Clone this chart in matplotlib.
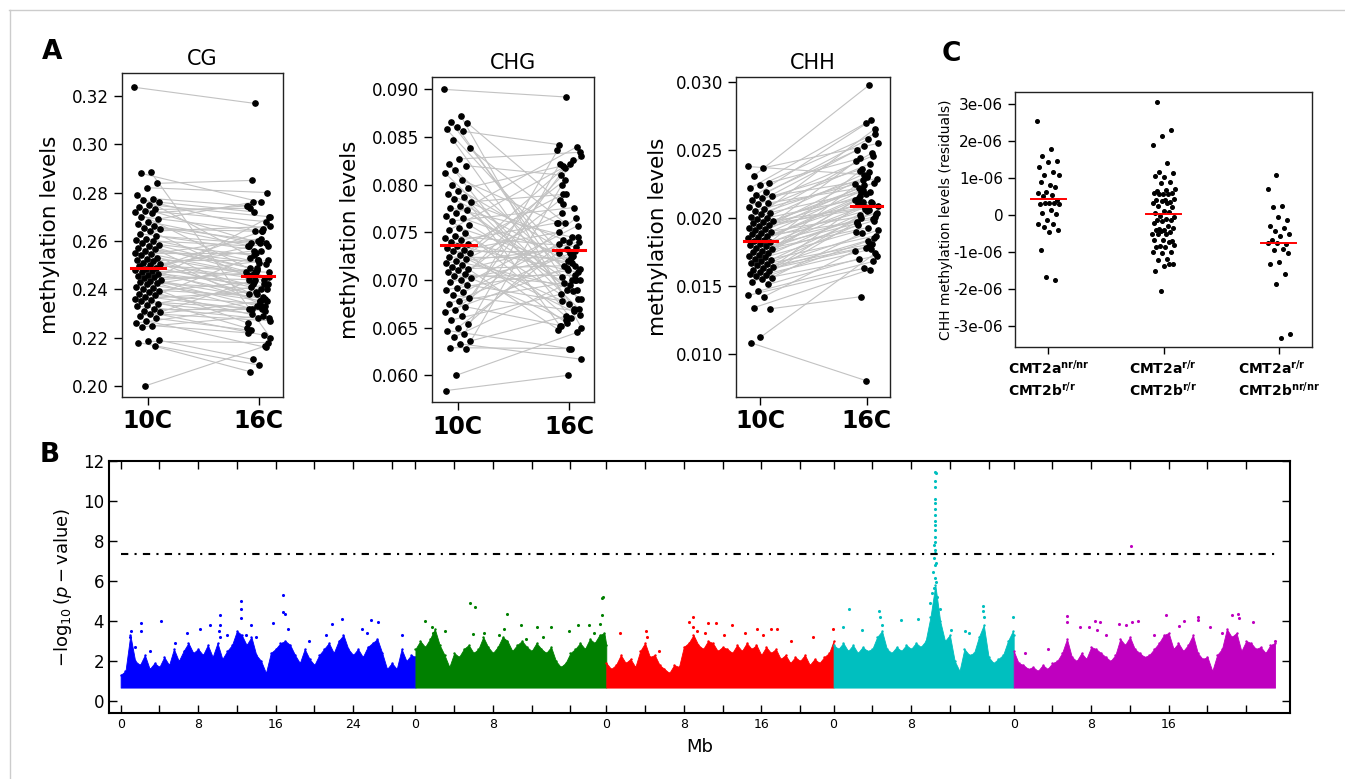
import numpy as np
import matplotlib.pyplot as plt
from matplotlib.ticker import FormatStrFormatter
from matplotlib.lines import Line2D

plt.rcParams['font.family'] = ['DejaVu Sans']
plt.rcParams['mathtext.fontset'] = 'dejavusans'

# ---------------- panel A: paired methylation levels (10C -> 16C) ----------------
cg_10c = [0.3235, 0.2885, 0.2880, 0.2838, 0.2820, 0.2790, 0.2775, 0.2770, 0.2760, 0.2750,
          0.2740, 0.2730, 0.2725, 0.2720, 0.2715, 0.2700, 0.2690, 0.2680, 0.2670, 0.2660,
          0.2655, 0.2650, 0.2640, 0.2630, 0.2620, 0.2610, 0.2605, 0.2600, 0.2590, 0.2585,
          0.2580, 0.2570, 0.2565, 0.2560, 0.2550, 0.2545, 0.2540, 0.2530, 0.2525, 0.2520,
          0.2515, 0.2510, 0.2505, 0.2500, 0.2495, 0.2490, 0.2485, 0.2480, 0.2475, 0.2470,
          0.2465, 0.2460, 0.2455, 0.2450, 0.2445, 0.2440, 0.2435, 0.2430, 0.2425, 0.2420,
          0.2410, 0.2405, 0.2400, 0.2395, 0.2390, 0.2380, 0.2375, 0.2370, 0.2360, 0.2355,
          0.2350, 0.2340, 0.2335, 0.2330, 0.2320, 0.2310, 0.2305, 0.2300, 0.2290, 0.2280,
          0.2270, 0.2260, 0.2250, 0.2245, 0.2190, 0.2185, 0.2180, 0.2165, 0.2000]
cg_16c = [0.3168, 0.2200, 0.2760, 0.2850, 0.2800, 0.2520, 0.2745, 0.2650, 0.2720, 0.2700,
          0.2590, 0.2735, 0.2680, 0.2470, 0.2745, 0.2640, 0.2760, 0.2580, 0.2600, 0.2580,
          0.2420, 0.2640, 0.2660, 0.2560, 0.2590, 0.2505, 0.2480, 0.2580, 0.2360, 0.2540,
          0.2450, 0.2510, 0.2490, 0.2330, 0.2550, 0.2470, 0.2610, 0.2460, 0.2400, 0.2520,
          0.2380, 0.2440, 0.2560, 0.2470, 0.2350, 0.2410, 0.2590, 0.2380, 0.2460, 0.2640,
          0.2420, 0.2520, 0.2330, 0.2440, 0.2360, 0.2470, 0.2700, 0.2400, 0.2320, 0.2350,
          0.2490, 0.2260, 0.2370, 0.2430, 0.2280, 0.2340, 0.2530, 0.2310, 0.2390, 0.2240,
          0.2320, 0.2300, 0.2420, 0.2280, 0.2320, 0.2210, 0.2440, 0.2270, 0.2350, 0.2230,
          0.2160, 0.2330, 0.2220, 0.2290, 0.2110, 0.2180, 0.2087, 0.2060, 0.2165]
cg_median = [0.2490, 0.2457]

chg_10c = [0.0900, 0.0872, 0.0866, 0.0865, 0.0861, 0.0858, 0.0856, 0.0847, 0.0838, 0.0827,
           0.0822, 0.0820, 0.0815, 0.0812, 0.0805, 0.0800, 0.0797, 0.0793, 0.0790, 0.0787,
           0.0785, 0.0782, 0.0778, 0.0776, 0.0773, 0.0770, 0.0767, 0.0765, 0.0762, 0.0758,
           0.0755, 0.0752, 0.0749, 0.0746, 0.0744, 0.0742, 0.0740, 0.0738, 0.0736, 0.0734,
           0.0732, 0.0730, 0.0728, 0.0726, 0.0724, 0.0722, 0.0720, 0.0718, 0.0716, 0.0714,
           0.0712, 0.0710, 0.0708, 0.0706, 0.0704, 0.0702, 0.0700, 0.0698, 0.0695, 0.0692,
           0.0690, 0.0687, 0.0684, 0.0681, 0.0678, 0.0675, 0.0672, 0.0669, 0.0666, 0.0662,
           0.0658, 0.0654, 0.0650, 0.0647, 0.0643, 0.0640, 0.0636, 0.0633, 0.0629, 0.0628,
           0.0600, 0.0584]
chg_16c = [0.0892, 0.0650, 0.0700, 0.0780, 0.0680, 0.0720, 0.0842, 0.0670, 0.0760, 0.0834,
           0.0660, 0.0810, 0.0700, 0.0690, 0.0760, 0.0725, 0.0820, 0.0670, 0.0740, 0.0652,
           0.0715, 0.0790, 0.0680, 0.0745, 0.0703, 0.0840, 0.0660, 0.0728, 0.0776, 0.0697,
           0.0712, 0.0822, 0.0685, 0.0735, 0.0655, 0.0760, 0.0718, 0.0790, 0.0708, 0.0675,
           0.0750, 0.0730, 0.0805, 0.0663, 0.0723, 0.0770, 0.0690, 0.0733, 0.0648, 0.0826,
           0.0715, 0.0740, 0.0695, 0.0784, 0.0705, 0.0658, 0.0830, 0.0725, 0.0678, 0.0757,
           0.0710, 0.0738, 0.0668, 0.0817, 0.0700, 0.0728, 0.0652, 0.0765, 0.0713, 0.0836,
           0.0688, 0.0742, 0.0745, 0.0628, 0.0822, 0.0700, 0.0662, 0.0617, 0.0628, 0.0800,
           0.0645, 0.0600]
chg_median = [0.0737, 0.0731]

chh_10c = [0.0238, 0.0237, 0.0231, 0.0226, 0.0224, 0.0222, 0.0219, 0.0217, 0.0216, 0.0215,
           0.0213, 0.0211, 0.0210, 0.0208, 0.0207, 0.0205, 0.0204, 0.0203, 0.0201, 0.0200,
           0.0199, 0.0198, 0.0197, 0.0196, 0.0195, 0.0194, 0.0193, 0.0192, 0.0191, 0.0190,
           0.0189, 0.0188, 0.0187, 0.0186, 0.0185, 0.0184, 0.0183, 0.0182, 0.0181, 0.0180,
           0.0179, 0.0178, 0.0177, 0.0176, 0.0175, 0.0174, 0.0173, 0.0172, 0.0171, 0.0170,
           0.0169, 0.0168, 0.0167, 0.0166, 0.0165, 0.0164, 0.0163, 0.0162, 0.0161, 0.0160,
           0.0159, 0.0158, 0.0157, 0.0156, 0.0155, 0.0153, 0.0151, 0.0146, 0.0143, 0.0142,
           0.0134, 0.0133, 0.0112, 0.0108]
chh_16c = [0.0232, 0.0255, 0.0298, 0.0244, 0.0262, 0.0270, 0.0250, 0.0272, 0.0236, 0.0229,
           0.0258, 0.0222, 0.0246, 0.0253, 0.0225, 0.0240, 0.0219, 0.0266, 0.0230, 0.0214,
           0.0248, 0.0221, 0.0209, 0.0234, 0.0216, 0.0226, 0.0207, 0.0242, 0.0212, 0.0220,
           0.0203, 0.0231, 0.0210, 0.0199, 0.0224, 0.0213, 0.0206, 0.0235, 0.0201, 0.0218,
           0.0196, 0.0211, 0.0228, 0.0204, 0.0193, 0.0215, 0.0198, 0.0208, 0.0190, 0.0219,
           0.0200, 0.0187, 0.0205, 0.0195, 0.0181, 0.0212, 0.0191, 0.0179, 0.0202, 0.0185,
           0.0178, 0.0197, 0.0177, 0.0189, 0.0172, 0.0183, 0.0170, 0.0168, 0.0163, 0.0176,
           0.0162, 0.0142, 0.0174, 0.0080]
chh_median = [0.0183, 0.0209]

# ---------------- panel C: CHH residuals (units of 1e-6) per genotype ----------------
c_labels = [r'$\mathbf{CMT2a}^{\mathbf{nr/nr}}$' + '\n' + r'$\mathbf{CMT2b}^{\mathbf{r/r}}$',
            r'$\mathbf{CMT2a}^{\mathbf{r/r}}$' + '\n' + r'$\mathbf{CMT2b}^{\mathbf{r/r}}$',
            r'$\mathbf{CMT2a}^{\mathbf{r/r}}$' + '\n' + r'$\mathbf{CMT2b}^{\mathbf{nr/nr}}$']
c_g1 = [2.55, 1.79, 1.60, 1.47, 1.43, 1.31, 1.17, 1.10, 1.10, 0.83, 0.89, 0.77, 0.63, 0.60,
        0.54, 0.51, 0.41, 0.32, 0.30, 0.32, 0.34, 0.30, 0.14, 0.07, 0.03, -0.14, -0.23, -0.25,
        -0.32, -0.41, -0.46, -0.93, -1.74, -1.66]
c_g2 = [3.07, 2.30, 2.15, 1.90, 1.41, 1.17, 1.13, 1.03, 1.07, 0.90, 0.88, 0.72, 0.67, 0.65,
        0.59, 0.58, 0.59, 0.58, 0.57, 0.45, 0.42, 0.40, 0.36, 0.38, 0.32, 0.32, 0.25, 0.21,
        0.12, 0.06, 0.09, -0.01, -0.05, -0.09, -0.12, -0.12, -0.15, -0.21, -0.28, -0.36,
        -0.35, -0.41, -0.41, -0.46, -0.43, -0.50, -0.50, -0.51, -0.69, -0.66, -0.66, -0.73,
        -0.84, -0.81, -0.86, -0.86, -1.00, -1.02, -0.98, -1.19, -1.20, -1.33, -1.37, -1.51,
        -1.31, -2.04]
c_g3 = [1.10, 0.71, 0.25, 0.23, -0.14, -0.06, -0.28, -0.35, -0.42, -0.52, -0.56, -0.66,
        -0.77, -0.75, -0.75, -0.90, -0.95, -1.02, -1.25, -1.32, -1.59, -1.86, -3.22, -3.31]
c_means = [0.43, 0.03, -0.76]
c_yticklabels = ['-3e-06', '-2e-06', '-1e-06', '0', '1e-06', '2e-06', '3e-06']

# ---------------- panel B: Manhattan plot ----------------
chrom_len = [30.43, 19.70, 23.46, 18.59, 26.98]
chrom_colors = ['b', 'g', 'r', 'c', 'm']
chrom_labeled_ticks = [[0, 8, 16, 24], [0, 8], [0, 8, 16], [0, 8], [0, 8, 16]]
threshold = 7.37
baseline = 0.67

# upper edge of the dense cloud, read every 0.5 Mb along each chromosome
chr1_env = [1.3, 1.5, 3.3, 2.0, 1.8, 2.3, 1.6, 1.9, 1.7, 2.2, 1.8, 2.6, 2.0, 2.5, 2.9, 2.4,
            2.6, 2.3, 2.8, 2.2, 2.9, 2.1, 2.5, 2.8, 3.5, 3.3, 2.8, 3.2, 2.3, 2.0, 1.4, 2.4,
            2.6, 2.9, 3.0, 2.8, 2.3, 1.9, 2.6, 2.1, 1.8, 2.3, 2.6, 2.9, 2.4, 3.0, 3.3, 2.6,
            2.3, 2.6, 2.2, 2.7, 2.9, 3.1, 2.4, 1.6, 1.9, 1.6, 2.6, 2.0, 2.3, 2.2]
chr2_env = [2.6, 3.0, 2.7, 3.1, 3.6, 2.8, 2.3, 1.7, 2.4, 2.2, 2.6, 2.8, 2.4, 2.6, 3.2, 2.7,
            2.4, 2.7, 3.2, 3.0, 2.5, 2.8, 3.0, 2.7, 2.5, 2.9, 2.6, 2.4, 2.7, 2.0, 1.7, 1.9,
            2.4, 2.6, 2.9, 2.6, 3.1, 2.9, 3.3, 3.4, 2.8]
chr3_env = [1.9, 1.6, 1.8, 2.3, 1.9, 2.1, 1.7, 2.5, 2.9, 2.2, 2.3, 1.8, 1.6, 1.4, 1.8, 1.7,
            2.7, 2.9, 3.3, 2.8, 2.6, 3.0, 2.9, 2.5, 2.7, 2.6, 2.4, 2.8, 2.5, 2.9, 2.6, 2.8,
            2.3, 2.7, 2.4, 2.6, 2.1, 2.3, 1.9, 2.2, 2.0, 2.3, 1.8, 2.1, 1.9, 2.2, 2.4, 3.0]
chr4_env = [2.8, 2.6, 2.9, 2.5, 2.8, 2.4, 2.7, 2.5, 2.6, 3.2, 3.5, 2.6, 2.4, 2.7, 2.5, 2.8,
            2.6, 2.9, 2.7, 3.0, 4.2, 5.8, 4.0, 3.0, 3.3, 2.0, 1.5, 2.6, 2.3, 2.4, 3.2, 3.8,
            2.2, 1.9, 2.1, 2.3, 3.0, 3.5, 3.3]
chr5_env = [2.5, 1.9, 1.8, 1.6, 1.7, 1.5, 1.8, 1.6, 1.9, 2.0, 2.4, 3.1, 2.2, 2.0, 2.4, 2.1,
            2.7, 2.6, 2.4, 2.2, 2.0, 2.3, 3.1, 2.8, 3.2, 2.6, 2.4, 2.2, 2.3, 2.6, 2.9, 3.3,
            3.4, 2.6, 2.9, 2.5, 2.8, 3.3, 2.4, 2.1, 2.2, 1.5, 2.3, 2.6, 3.6, 3.2, 3.4, 2.5,
            3.0, 2.9, 2.6, 2.7, 2.4, 2.8, 2.9]

# isolated SNPs above the cloud: (Mb within chromosome, -log10 p)
chr1_hits = [(2.1, 3.9), (2.1, 3.5), (4.15, 4.0), (10.25, 4.3), (10.25, 3.8), (12.4, 5.0),
             (12.4, 4.6), (12.4, 4.15), (13.5, 3.8), (16.8, 5.3), (16.8, 4.45), (17.0, 4.35),
             (15.75, 3.9), (17.3, 3.6), (22.8, 4.1), (21.8, 3.85), (25.8, 4.05), (26.6, 3.95),
             (29.0, 3.3), (6.8, 3.4), (9.2, 3.8), (8.2, 3.6), (11.0, 3.3), (14.0, 3.2),
             (21.2, 3.3), (24.9, 3.6), (25.4, 3.4), (19.4, 3.0), (5.6, 2.9), (1.5, 2.7),
             (3.0, 2.5), (12.9, 3.3), (1.1, 3.5), (1.0, 3.2), (10.2, 3.5), (10.3, 3.2)]
chr2_hits = [(0.95, 4.0), (3.1, 3.5), (5.6, 4.9), (6.15, 4.7), (5.9, 3.35), (9.4, 4.33),
             (9.1, 3.6), (10.9, 3.8), (12.5, 3.7), (14.0, 3.7), (15.9, 3.5), (16.8, 3.8),
             (17.9, 3.8), (18.4, 3.4), (19.0, 3.85), (19.25, 4.3), (19.3, 5.13), (19.35, 5.2),
             (7.1, 3.4), (11.4, 3.1), (1.75, 3.7), (1.8, 3.4), (8.6, 3.3), (13.2, 3.2)]
chr3_hits = [(1.4, 3.4), (4.05, 3.5), (8.9, 4.2), (8.5, 3.95), (10.5, 3.9), (11.3, 3.9),
             (13.0, 3.8), (15.6, 3.6), (17.0, 3.6), (17.6, 3.6), (21.3, 3.2), (23.4, 3.6),
             (19.1, 3.0), (9.4, 3.5), (10.2, 3.4), (5.4, 2.5), (12.2, 3.3), (14.3, 3.4),
             (16.2, 3.3), (4.2, 3.2), (9.0, 3.7)]
chr4_hits = [(1.6, 4.6), (1.0, 3.7), (4.7, 4.5), (4.8, 4.2), (4.95, 3.8), (2.9, 3.55),
             (7.0, 4.05), (8.75, 4.1), (10.45, 11.47), (10.6, 11.4), (10.45, 11.0),
             (10.45, 10.7), (10.45, 10.1), (10.45, 9.9), (10.45, 9.6), (10.45, 9.3),
             (10.45, 9.0), (10.45, 8.8), (10.45, 8.55), (10.45, 8.2), (10.45, 7.97),
             (10.35, 7.8), (10.45, 7.55), (10.5, 7.38), (10.4, 7.13), (10.55, 6.9),
             (10.45, 6.8), (10.3, 6.47), (10.5, 6.13), (10.6, 5.97), (10.4, 5.63),
             (10.2, 5.4), (10.7, 5.2), (10.0, 4.9), (11.0, 4.6), (12.1, 3.55), (15.45, 4.77),
             (15.4, 4.5), (15.5, 4.2), (18.5, 4.2), (13.6, 3.5), (14.0, 3.4)]
chr5_hits = [(5.5, 4.25), (5.5, 3.97), (6.8, 3.7), (7.8, 3.7), (8.35, 4.0), (8.9, 3.97),
             (8.6, 3.55), (10.9, 3.83), (11.6, 3.8), (12.2, 3.95), (12.8, 4.0), (15.75, 4.3),
             (17.1, 3.75), (17.6, 4.0), (19.0, 4.22), (19.05, 4.05), (20.3, 3.68), (22.5, 4.3),
             (23.2, 4.35), (23.3, 4.13), (24.7, 3.93), (26.95, 3.0), (12.07, 7.75), (3.5, 2.6),
             (1.2, 2.4), (9.5, 3.3), (14.5, 3.3), (21.5, 3.4)]

chrom_env = [chr1_env, chr2_env, chr3_env, chr4_env, chr5_env]
chrom_hits = [chr1_hits, chr2_hits, chr3_hits, chr4_hits, chr5_hits]

W, H = 1345, 779
fig = plt.figure(figsize=(W / 100, H / 100), dpi=100)


def frac(left, top, right, bottom):
    # pixel box -> figure fraction rect
    return [left / W, 1 - bottom / H, (right - left) / W, (bottom - top) / H]


def spread(n, width, shift=0.0):
    # deterministic strip-plot jitter
    k = np.arange(n)
    return (((k * 0.618034 + shift) % 1.0) - 0.5) * 2 * width


def paired_panel(rect, title, v10, v16, med, yticks, fmt, ylim, labelx):
    ax = fig.add_axes(rect)
    v10 = np.array(v10)
    v16 = np.array(v16)
    x0 = 0.0 + spread(len(v10), 0.12)
    x1 = 1.0 + spread(len(v16), 0.11, 0.37)
    ax.plot(np.vstack([x0, x1]), np.vstack([v10, v16]), color='#c2c2c2', lw=0.8, zorder=1)
    ax.plot(x0, v10, 'o', color='black', ms=3.8, zorder=2)
    ax.plot(x1, v16, 'o', color='black', ms=3.8, zorder=2)
    ax.plot([-0.15, 0.16], [med[0], med[0]], color='red', lw=2.2, zorder=3)
    ax.plot([0.85, 1.14], [med[1], med[1]], color='red', lw=2.2, zorder=3)
    ax.set_xlim(-0.23, 1.22)
    ax.set_ylim(ylim)
    ax.set_xticks([0, 1])
    ax.set_xticklabels(['10C', '16C'], fontsize=17, fontweight='bold')
    ax.set_yticks(yticks)
    ax.yaxis.set_major_formatter(FormatStrFormatter(fmt))
    ax.tick_params(axis='y', direction='out', length=6, width=1, labelsize=12)
    ax.tick_params(axis='x', direction='out', length=6, width=1, pad=3)
    for s in ax.spines.values():
        s.set_linewidth(1.0)
        s.set_color('#222222')
    ax.set_title(title, fontsize=15, pad=6)
    ax.set_ylabel('methylation levels', fontsize=15.5)
    ax.yaxis.set_label_coords(labelx, 0.5)
    return ax


paired_panel(frac(122, 73, 283, 397), 'CG', cg_10c, cg_16c, cg_median,
             np.arange(0.20, 0.33, 0.02), '%.2f', (0.1955, 0.3294), -0.385)
paired_panel(frac(432, 77, 594, 402), 'CHG', chg_10c, chg_16c, chg_median,
             np.arange(0.060, 0.0901, 0.005), '%.3f', (0.0572, 0.0913), -0.445)
paired_panel(frac(736, 77, 890, 397), 'CHH', chh_10c, chh_16c, chh_median,
             np.arange(0.010, 0.0301, 0.005), '%.3f', (0.0068, 0.0304), -0.44)

# ---- panel C ----
axc = fig.add_axes(frac(1015, 92, 1312, 347))
for g, vals in enumerate([c_g1, c_g2, c_g3]):
    vals = np.array(vals) * 1e-6
    xs = g + spread(len(vals), 0.1, 0.2 * g)
    axc.plot(xs, vals, 'o', color='black', ms=2.6)
    axc.plot([g - 0.155, g + 0.155], [c_means[g] * 1e-6] * 2, color='red', lw=1.4)
axc.set_xlim(-0.29, 2.29)
axc.set_ylim(-3.56e-6, 3.33e-6)
axc.set_xticks([0, 1, 2])
axc.set_xticklabels(c_labels, fontsize=10, multialignment='left')
axc.set_yticks(np.arange(-3, 4) * 1e-6)
axc.set_yticklabels(c_yticklabels, fontsize=11)
axc.tick_params(direction='out', length=5, width=1)
for s in axc.spines.values():
    s.set_linewidth(1.0)
    s.set_color('#222222')
axc.set_ylabel('CHH methylation levels (residuals)', fontsize=10)
axc.yaxis.set_label_coords(-0.21, 0.5)

# ---- panel B ----
axb = fig.add_axes(frac(109, 461, 1290, 713))
offsets = np.concatenate([[0], np.cumsum(chrom_len)[:-1]])
tick_pos, tick_lab = [], []
for i in range(len(chrom_len)):
    env = np.array(chrom_env[i])
    pos = np.minimum(np.arange(len(env)) * 0.5, chrom_len[i]) + offsets[i]
    axb.fill_between(pos, baseline, env, color=chrom_colors[i], lw=0.6, edgecolor=chrom_colors[i])
    axb.scatter(pos, env, s=3, color=chrom_colors[i], lw=0)
    hp = np.array([h[0] for h in chrom_hits[i]]) + offsets[i]
    hv = np.array([h[1] for h in chrom_hits[i]])
    axb.scatter(hp, hv, s=5, color=chrom_colors[i], lw=0)
    for t in np.arange(0, chrom_len[i], 4):
        tick_pos.append(t + offsets[i])
        tick_lab.append(str(int(t)) if t in chrom_labeled_ticks[i] else '')

axb.plot([0, sum(chrom_len)], [threshold, threshold], color='black', lw=1.5,
         dashes=(3.5, 3, 1, 3))
axb.set_xlim(-1.2, 120.7)
axb.set_ylim(-0.6, 12)
axb.set_xticks(tick_pos)
axb.set_xticklabels(tick_lab, fontsize=9)
axb.set_yticks(np.arange(0, 13, 2))
axb.tick_params(axis='y', labelsize=12)
axb.tick_params(direction='in', length=6, width=1, top=True, right=True)
for s in axb.spines.values():
    s.set_linewidth(1.5)
axb.set_xlabel('Mb', fontsize=13, labelpad=5)
axb.set_ylabel(r'$-\log_{10}(p-\mathrm{value})$', fontsize=13)
axb.yaxis.set_label_coords(-0.03, 0.5)

# panel letters and the thin frame at the top/left edges
fig.text(52 / W, 1 - 52 / H, 'A', fontsize=19, fontweight='bold', ha='center', va='center')
fig.text(50 / W, 1 - 455 / H, 'B', fontsize=19, fontweight='bold', ha='center', va='center')
fig.text(951 / W, 1 - 54 / H, 'C', fontsize=19, fontweight='bold', ha='center', va='center')
fig.add_artist(Line2D([9 / W, 1], [1 - 9.5 / H] * 2, color='#cccccc', lw=1,
                      transform=fig.transFigure))
fig.add_artist(Line2D([9.5 / W] * 2, [0, 1 - 9.5 / H], color='#cccccc', lw=1,
                      transform=fig.transFigure))

fig.savefig('out.png', dpi=100)
